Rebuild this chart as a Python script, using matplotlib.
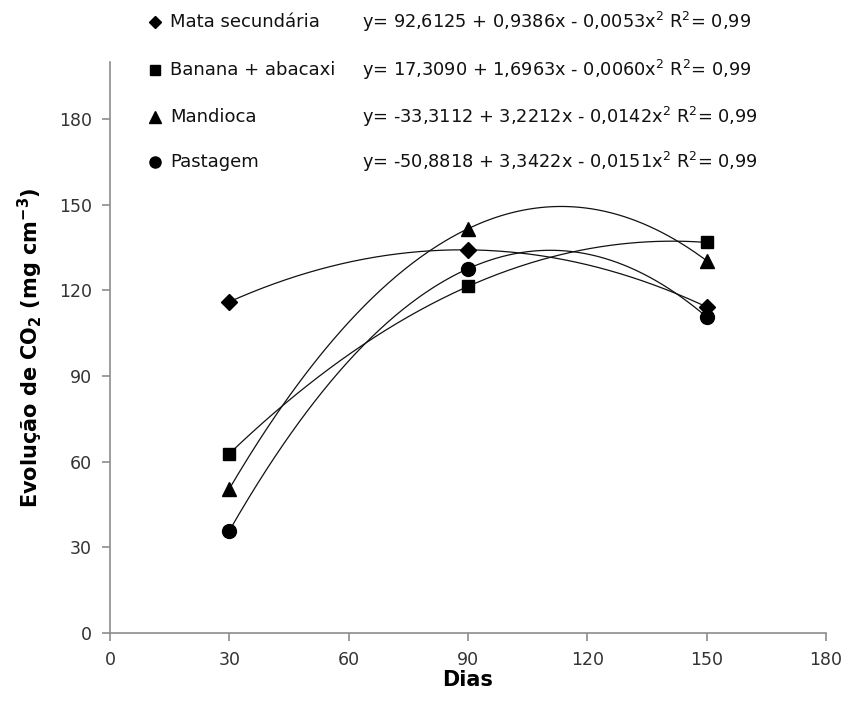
import numpy as np
import matplotlib
matplotlib.use("Agg")
import matplotlib.pyplot as plt
from matplotlib.lines import Line2D

plt.rcParams['font.family'] = ['DejaVu Sans']
plt.rcParams['mathtext.fontset'] = 'dejavusans'

# Data
dias = [30, 90, 150]
series_names = ["Mata secundária", "Banana + abacaxi", "Mandioca", "Pastagem"]
mata = [116.0, 134.2, 114.2]
banana = [62.8, 121.4, 136.8]
mandioca = [50.5, 141.6, 130.4]
pastagem = [35.8, 127.6, 110.7]
equations = [
    "y= 92,6125 + 0,9386x - 0,0053x$^2$ R$^2$= 0,99",
    "y= 17,3090 + 1,6963x - 0,0060x$^2$ R$^2$= 0,99",
    "y= -33,3112 + 3,2212x - 0,0142x$^2$ R$^2$= 0,99",
    "y= -50,8818 + 3,3422x - 0,0151x$^2$ R$^2$= 0,99",
]
xticks = [0, 30, 60, 90, 120, 150, 180]
yticks = [0, 30, 60, 90, 120, 150, 180]

markers = ['D', 's', '^', 'o']
msizes = [8, 8, 10, 10]
values = [mata, banana, mandioca, pastagem]

fig = plt.figure(figsize=(8.59, 7.03), dpi=100)
ax = fig.add_axes([110/859, 1-633/703, (826-110)/859, (633-62)/703])

xs = np.linspace(min(dias), max(dias), 300)
for name, vals, m, ms in zip(series_names, values, markers, msizes):
    coef = np.polyfit(dias, vals, 2)
    ax.plot(xs, np.polyval(coef, xs), color='#111111', lw=0.9, zorder=2)
    ax.plot(dias, vals, linestyle='none', marker=m, markersize=ms,
            color='black', zorder=3)

ax.set_xlim(0, 180)
ax.set_ylim(0, 200)
ax.set_xticks(xticks)
ax.set_yticks(yticks)
for s in ['top', 'right']:
    ax.spines[s].set_visible(False)
for s in ['left', 'bottom']:
    ax.spines[s].set_color('#8c8c8c')
    ax.spines[s].set_linewidth(1.2)
ax.tick_params(axis='both', direction='out', length=6, width=1.2,
               color='#8c8c8c', labelsize=12.5, labelcolor='#333333', pad=7)

ax.set_xlabel("Dias", fontsize=15, fontweight='bold', labelpad=1)
ax.set_ylabel("Evolução de CO$_\\mathbf{2}$ (mg cm$^\\mathbf{-3}$)", fontsize=15,
              fontweight='bold', labelpad=10)

row_y = [22, 70, 117, 162]
leg_ms = [6, 7, 8, 8]
for name, m, lms, eq, ry in zip(series_names, markers, leg_ms, equations, row_y):
    fig.text(170/859, 1-ry/703, name, fontsize=13, va='center', ha='left', color='#111111')
    fig.text(362/859, 1-ry/703, eq, fontsize=12.8, va='center', ha='left', color='#111111')
    fig.lines.append(Line2D([155/859], [1-ry/703], transform=fig.transFigure,
                            linestyle='none', marker=m,
                            markersize=lms, color='black'))

fig.savefig("out.png", dpi=100)
